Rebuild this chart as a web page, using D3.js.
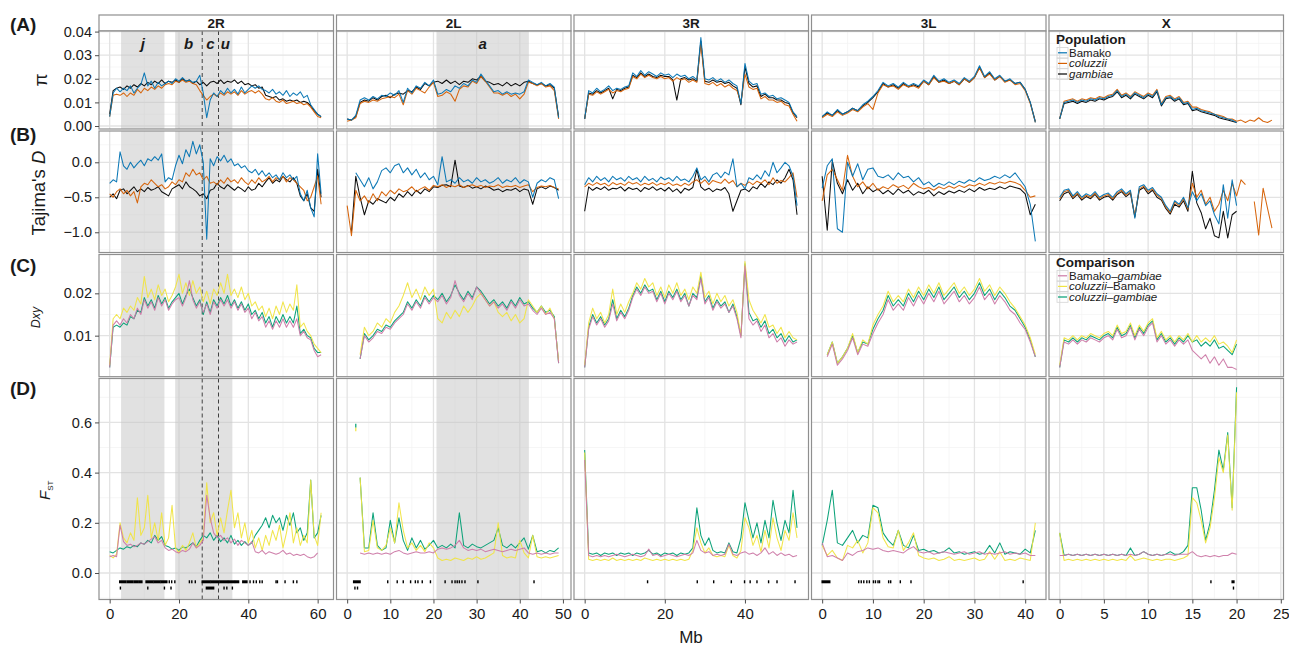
<!DOCTYPE html>
<html>
<head>
<meta charset="utf-8">
<script src="https://cdn.jsdelivr.net/npm/d3@7"></script>
<style>
  body { margin: 0; background: #fff; }
  svg { font-family: "Liberation Sans", Arial, Helvetica, sans-serif; }
</style>
</head>
<body>
<svg id="chart" width="1289" height="648"></svg>
<script>
// chromosome arms, their length (Mb) and the window step of the value arrays (Mb)
var chroms = ["2R", "2L", "3R", "3L", "X"];
var chromLen = [61.5, 49.4, 53.2, 42.0, 24.1];
var chromStep = [1, 1, 1, 1, 0.5];
var xTicks = [[0, 20, 40, 60], [0, 10, 20, 30, 40, 50], [0, 20, 40], [0, 10, 20, 30, 40], [0, 5, 10, 15, 20, 25]];

// populations (draw order) and pairwise comparisons (draw order)
var popOrder = ["gambiae", "coluzzii", "Bamako"];
var popColor = { Bamako: "#0072B2", coluzzii: "#D55E00", gambiae: "#000000" };
var cmpOrder = ["coluzzii-gambiae", "coluzzii-Bamako", "Bamako-gambiae"];
var cmpColor = { "Bamako-gambiae": "#CC79A7", "coluzzii-Bamako": "#F0E442", "coluzzii-gambiae": "#009E73" };

// ---- nucleotide diversity pi (x1000) ----
var pi2R_gam = [5,15,16,16.5,15.5,17,16,17.5,16.5,18, 17,18.5,17.5,19,18,19.5,18,19,18.5,19.5, 18.5,20,19,19.5,18,19,17.5,18.5,17,18.5, 19,18,19.5,18,19,18.5,19.5,18,19,17.5, 18,17,17.5,16,16.5,13,12.5,12,12.5,11, 11.5,10.5,11,10.5,11,10,10.5,10,8.5,6.5, 5,4];
var pi2R_bam = [4,14,16,14.5,16,15,17,14,16,17.5, 22.5,17,19,16,18.5,17,18,19,18,20, 19,20.5,19,19.5,18.5,19,21.5,14,3.5,11, 14,12.5,15,13.5,16,14,15.5,13.5,16.5,14, 15.5,17,16,17,15.5,15,14,15.5,13.5,14.5, 13,15,12.5,14,13,14.5,12,13,9,7, 5,4];
var pi2R_col = [4,13,13.5,13,14,12.5,14,13,15.5,14, 16,15,16.5,15.5,17,16,17.5,18,17.5,19, 18.5,19.5,18.5,19,18,17.5,15,13,11,12.5, 13.5,12.5,14,13,14.5,13.5,14.5,13,15,13.5, 14.5,15,14,15,13.5,11.5,11,12,10.5,10, 11,9.5,10,10.5,9.5,10,9,9.5,8,6, 4,3.5];
var pi2L_gam = [3,2.5,4,10,11,10.5,12,11,12.5,13, 12,13.5,14,13.5,15,14.5,16.5,15.5,18,17, 18.5,19,18,19.5,18,19,17.5,19,18.5,20, 19.5,21,19,18.5,17.5,18,17,18.5,17,18, 17,18.5,19,18,17.5,18,17,17.5,16,4];
var pi2L_bam = [3,2.5,4.5,11,12,11,12.5,11.5,13,12.5, 14,13,15,10,16,14,17,16,18.5,17, 19.5,13.5,14,15.5,14.5,17,16,18,17,19.5, 18.5,22,19.5,17,14.5,15,13.5,14.5,13.5,14, 13.5,14.5,19.5,18.5,17.5,18.5,17,18,16.5,3.5];
var pi2L_col = [2,2.5,3.5,9.5,10.5,10,11,10.5,11.5,12, 12.5,12,13.5,9,15,13.5,16,15,14,16.5, 18.5,12.5,13,14.5,13.5,10.5,15.5,17,16.5,19, 18,21,19,16.5,14,14,13,14,12.5,13.5, 11.5,13.5,18.5,18,17,18,16.5,17,15,3];
var pi3R_bam = [3,15,14,16,14.5,15.5,17,15,16,15.5, 16.5,17,22.5,21,23.5,21.5,23,22,21,22.5, 21.5,22,20.5,22,21,21.5,20,21,19.5,37.5, 20,19.5,20.5,19,20,18.5,19.5,18,17,9.5, 26.5,19,17.5,18,13.5,14,12.5,13,11.5,12, 11,10,6,4];
var pi3R_gam = [3,14,13.5,15,14,15,16,11.5,15.5,15, 16,16.5,21.5,20.5,22.5,21,22,21,20.5,21.5, 21,21,19.5,11,20,20.5,19.5,20,19,36, 19,18.5,19.5,18.5,19,18,18.5,17,16,9, 25,18,16.5,17,12.5,13.5,12,12,11,11, 10,9.5,5.5,3.5];
var pi3R_col = [3,13.5,13,14.5,13.5,14.5,15.5,14,15,14.5, 15.5,16,21,20,22,20.5,21.5,20.5,20,21, 20,20.5,19,20.5,19.5,20,18.5,19.5,18.5,35, 18,17.5,18.5,17,18,16.5,17.5,16,15,10, 22,16.5,15.5,16,11.5,12.5,11,11,10,10.5, 9,8.5,5,2];
var pi3L_bam = [4,6,4.5,7,5,6,7.5,6.5,9,10.5, 12.5,15,18.5,17,18,16.5,18.5,17,18,17, 19.5,18,21.5,19,20,18.5,19.5,18,20.5,19, 21,25.5,21,23,20,21.5,19,20,18,18.5, 15.5,10,1.5];
var pi3L_col = [3.5,5,4,6,4.5,5.5,7,6,8,9.5, 7,14,17.5,16.5,17,15.5,17.5,16.5,17,16, 19,17.5,20.5,18.5,19,18,19,17.5,20,18.5, 20.5,24.5,20.5,22,19.5,21,18.5,19.5,17.5,18, 15,9.5,1.5];
var pi3L_gam = [4,5.5,4.5,6.5,5,6,7.5,6.5,8.5,10, 12,14.5,18,16.5,17.5,16,18,16.5,17.5,16.5, 19,17.5,21,18.5,19.5,18,19,17.5,20,18.5, 20.5,25,20.5,22.5,19.5,21,19,19.5,18,18.5, 15.5,10,2];
var piX_bam = [3,10,10.5,11,10,11,10.5,11.5,11,12, 11.5,12.5,13,15,12.5,13.5,12,14,13,12, 13.5,12.5,15,9,12,12.5,11,12,9.5,10, 7,7.5,6.5,6,5.5,5,4,3.5,3,2.5, 1.5,null,null,null,null,null,null,null,null];
var piX_gam = [3,9.5,10,10.5,9.5,10.5,10,11,10.5,11.5, 11,12,12.5,14.5,12,13,11.5,13.5,12.5,11.5, 13,12,14.5,8.5,11.5,12,10.5,11.5,9,9.5, 6.5,7,6,5.5,5,4.5,3.5,3,2.5,2, 1.5,null,null,null,null,null,null,null,null];
var piX_col = [3,10.5,11,11.5,10.5,11.5,11,12,11.5,12.5, 12,13,13.5,15.5,13,14,12.5,14.5,13.5,12.5, 14,13,15.5,9.5,12.5,13,11.5,12.5,10,10.5, 8,8,7,6.5,6,5,4.5,4,3,3, 2,2.5,1.5,2.5,2,3.5,2,1.5,2.5];

// ---- Tajima's D (x100) ----
var tajD2R_bam = [-30,-25,-28,15,-5,-10,0,-8,-2,3, -5,5,2,8,3,12,-28,-22,-25,-5, 10,-2,18,8,30,12,25,0,-110,5, -5,8,2,10,0,5,-5,-2,-8,-5, -12,-15,-10,-18,-12,-20,-15,-22,-18,-25, -15,-22,-18,-25,-20,-45,-55,-40,-65,-78, 12,-45];
var tajD2R_col = [-45,-50,-42,-38,-45,-40,-48,-42,-58,-35, -30,-32,-25,-30,-35,-32,-38,-35,-28,-32, -25,-28,-15,-20,-10,-18,-15,-25,-20,-30, -28,-32,-25,-30,-22,-28,-25,-30,-22,-28, -32,-25,-30,-22,-28,-25,-20,-28,-22,-25, -20,-28,-22,-25,-30,-35,-40,-55,-50,-35, -20,-60];
var tajD2R_gam = [-50,-45,-52,-40,-38,-45,-40,-35,-42,-38, -42,-36,-40,-38,-35,-42,-45,-48,-38,-35, -32,-38,-28,-35,-38,-42,-48,-45,-52,-40, -38,-30,-35,-38,-32,-36,-40,-35,-38,-42, -35,-40,-38,-30,-35,-28,-22,-30,-25,-28, -20,-25,-28,-22,-30,-48,-55,-45,-65,-70, -10,-50];
var tajD2L_bam = [null,null,-15,-25,-35,-22,-38,-28,-12,-8, -15,-5,-2,-15,-8,-18,-10,-22,-15,-25, -20,-32,8,-28,-25,-30,-22,-28,-25,-30, -22,-28,-25,-30,-27,-22,-30,-25,-28,-22, -30,-25,-28,-50,-30,-25,-28,-22,-25,-52];
var tajD2L_col = [-62,-105,-40,-55,-48,-58,-45,-55,-42,-48, -40,-45,-38,-42,-40,-35,-42,-38,-35,-40, -33,-35,-32,-36,-33,-35,-32,-36,-34,-32, -35,-33,-36,-34,-35,-32,-36,-34,-35,-33, -36,-34,-32,-42,-36,-34,-35,-33,-36,-38];
var tajD2L_gam = [null,-100,-20,-50,-75,-55,-60,-52,-55,-58, -50,-55,-45,-50,-42,-48,-40,-45,-38,-42, -35,-36,-33,-32,-35,3,-34,-36,-33,-37, -35,-38,-34,-36,-40,-38,-42,-39,-40,-37, -42,-38,-40,-60,-38,-35,-38,-34,-36,-40];
var tajD3R_bam = [-32,-22,-28,-20,-26,-22,-28,-20,-25,-22, -27,-20,-25,-22,-28,-20,-26,-23,-28,-21, -25,-22,-27,-20,-26,-24,-28,-20,-8,-25, -20,-28,-18,-15,-22,-14,-18,5,-35,-30, -38,-22,-25,-18,-24,-12,-20,0,-15,-8, 0,-5,-20,-62];
var tajD3R_col = [-35,-30,-33,-29,-32,-30,-34,-29,-32,-30, -33,-28,-31,-29,-33,-30,-32,-29,-33,-30, -32,-29,-33,-31,-34,-30,-33,-28,-25,-30, -25,-32,-26,-28,-30,-24,-30,-26,-35,-30, -33,-28,-32,-27,-30,-25,-32,-22,-30,-26, -28,-22,-15,-50];
var tajD3R_gam = [-70,-35,-40,-36,-39,-35,-40,-37,-38,-35, -41,-36,-39,-37,-42,-36,-39,-35,-40,-37, -41,-36,-42,-38,-44,-37,-40,-36,-10,-35, -40,-37,-42,-38,-40,-36,-45,-70,-55,-40, -38,-42,-35,-38,-30,-36,-28,-32,-25,-30, -22,-10,-25,-75];
var tajD3L_bam = [-37,-5,5,-95,-100,0,-20,-2,-25,-10, -8,-20,-22,-18,-25,-15,-22,-20,-28,-22, -32,-28,-35,-30,-33,-28,-32,-27,-30,-25, -28,-22,-26,-24,-20,-23,-18,-22,-15,-25, -35,-60,-113];
var tajD3L_col = [-55,-18,-10,-25,-40,10,-20,-35,-28,-38, -30,-40,-35,-38,-32,-36,-33,-38,-30,-35, -38,-36,-40,-35,-38,-34,-37,-33,-36,-32, -34,-30,-33,-29,-31,-28,-30,-27,-29,-32, -40,-50,-48];
var tajD3L_gam = [-20,-97,2,-30,-45,-25,-40,-30,-45,-35, -42,-38,-45,-40,-46,-38,-44,-40,-47,-42, -45,-40,-48,-42,-46,-41,-44,-40,-43,-38, -42,-36,-40,-37,-39,-35,-38,-34,-36,-38, -45,-75,-60];
var tajDX_bam = [-50,-40,-38,-48,-42,-50,-45,-48,-42,-50, -46,-44,-50,-42,-38,-45,-40,-80,-35,-32, -40,-36,-45,-50,-62,-70,-55,-60,-50,-65, -42,-55,-45,-62,-55,-75,-88,-32,-80,-25, -62,null,null,null,null,null,null,null,null];
var tajDX_gam = [-55,-45,-42,-52,-46,-54,-49,-52,-46,-54, -50,-48,-54,-46,-42,-49,-44,-78,-40,-36, -45,-40,-50,-54,-66,-74,-60,-64,-55,-70, -13,-58,-72,-95,-80,-105,-108,-70,-108,-75, -70,null,null,null,null,null,null,null,null];
var tajDX_col = [-52,-42,-40,-50,-44,-52,-47,-50,-44,-52, -48,-46,-52,-44,-40,-47,-42,-76,-38,-34, -42,-38,-47,-52,-64,-72,-57,-62,-52,-67, -30,-50,-40,-60,-50,-70,-60,-40,-55,-30, -48,-25,-32,null,-56,-104,-37,-66,-94];

// ---- absolute divergence Dxy (x1000) ----
var dxy2R_colBam = [3,14,15,14,16.5,15.5,17,16,19,17.5, 24,19,21,18.5,22,19.5,21,18,19.5,21.5, 24.5,20,22.5,19.5,23,20,21.5,18,20.5,17.5, 21,19.5,22.5,20,24.5,19.5,21,19,21.5,18.5, 20,17,18,16,17,14.5,16.5,14,17,15, 18,15.5,17.5,16,22,12,13,11,10,8, 7,6];
var dxy2R_bamGam = [2.5,12.5,13.5,12.5,14,13,15,14,16.5,15, 18.5,16.5,18,16,19,17,18.5,16,17.5,18.5, 19,17,19,23,18.5,16.5,18,15.5,17.5,15, 18,16.5,18.5,17,18.5,16.5,18,16,17.5,15.5, 16.5,14,15.5,13.5,14.5,12,13.5,11.5,13.5,12, 14,12,13.5,12,14,10,11,9.5,9,6.5, 5,5.5];
var dxy2R_colGam = [2.5,12,12.5,12,13,12.5,14.5,14,16,15.5, 19,17,18.5,16.5,19.5,17.5,19,16.5,18,19, 20,17.5,19.5,21,19,17,18.5,15,18,15.5, 18.5,17,19,17.5,19.5,17,18.5,16.5,18,16, 17.5,15,16,14,15.5,13,14.5,12,14.5,13, 15,13,14.5,13,17,10.5,11.5,10,9.5,7, 6,6];
var dxy2L_colBam = [null,null,null,5.5,12,10,11,13,12,14, 13,15.5,17,19.5,22.5,19,21,18.5,21.5,19.5, 21,14,13,15.5,14,16,14.5,17,15.5,17, 19,20,18.5,17,18,15.5,14.5,15.5,13.5,15, 13,14,18.5,17,15.5,17,15,16.5,14,4];
var dxy2L_bamGam = [null,null,null,4.5,10,8.5,9.5,11,10.5,12, 11.5,13,14,15,17.5,16,18,16.5,19,17.5, 19,18,19.5,17.5,19,23,19.5,18,20,18.5, 21.5,20,18.5,17,18,16.5,17.5,16,18,16.5, 18.5,17,17.5,16,15,16.5,15,15.5,14,3.5];
var dxy2L_colGam = [null,null,null,4.5,10.5,9,10,11.5,11,12.5, 12,13.5,14.5,15.5,18,16.5,18.5,17,19.5,18, 19.5,18.5,20,18,19.5,22,20,18.5,20.5,19, 21.5,20.5,19,17.5,18.5,17,18,16.5,18.5,17, 19,17.5,18,16.5,15.5,17,15.5,16,14.5,3.5];
var dxy3R_colBam = [3,13,16.5,14,15.5,13,15,21,15,17.5, 15.5,18,20,22.5,21,23.5,21.5,22.5,19.5,21.5, 19,22,20,22.5,19.5,21,18.5,21.5,20,25, 19,20.5,17.5,20,18,19.5,17,18.5,15.5,10, 27.5,18.5,16,14.5,13,15,12,12.5,10.5,12, 9.5,11,9.5,9];
var dxy3R_bamGam = [2.5,11.5,14.5,12.5,14,12,13.5,17.5,13.5,15.5, 14,16,19,21,19.5,21.5,20,20.5,18,20, 17.5,20,18.5,20.5,18,19.5,17,19.5,18.5,23.5, 17.5,19,16,18,16.5,17.5,15.5,17,14,9.5, 26.5,14,12.5,13.5,11,12.5,9.5,10.5,8.5,9.5, 7.5,9,8,8.5];
var dxy3R_colGam = [2.5,12,15,13,14.5,12.5,14,18.5,14,16, 14.5,16.5,19.5,21.5,20,22,20.5,21,18.5,20.5, 18,20.5,19,21,18.5,20,17,20,19,24, 18,19.5,16.5,18.5,17,18,15.5,17.5,14.5,10, 27,15.5,13.5,14,12,13.5,10.5,11.5,9.5,10.5, 8.5,10,8.5,9];
var dxy3L_colBam = [null,5.5,8.5,3.5,5,7,10.5,6,9,8, 12.5,15,17,20.5,18,19.5,18,21,19,21.5, 19.5,22,20,22.5,19.5,21,22.5,20,21.5,19.5, 21,23.5,20.5,22,19.5,21.5,20,18,16.5,14.5, 12.5,9.5,5.5];
var dxy3L_bamGam = [null,5,8,3,4.5,6.5,9.5,5.5,8,7.5, 10.5,13,15,18.5,16,17.5,16,19,17,19.5, 17.5,20,18,20.5,17.5,19,20.5,18,19.5,17.5, 19,21.5,18.5,20,17.5,19.5,18,16,15,13, 11.5,8.5,5];
var dxy3L_colGam = [null,5.5,8.5,3.5,5,7,10,6,8.5,8, 11.5,14,16,19.5,17,18.5,17,20,18,20.5, 18.5,21,19,21.5,18.5,20,21.5,19,20.5,18.5, 20,22.5,19.5,21,18.5,20.5,19,17,16,14, 12,9,5];
var dxyX_colBam = [3,9.5,9,10,9,10,9.5,10.5,10,9.5, 10.5,11,10,12.5,10.5,11,13,10,12.5,11, 13,14,9.5,11,9,10,8.5,10,9,10.5, 8.5,10,8.5,9.5,8.5,10,8,8.5,7.5,6, 9,null,null,null,null,null,null,null,null];
var dxyX_colGam = [2.5,9,8.5,9.5,8.5,9.5,9,10,9.5,9, 10,10.5,9.5,12,10,10.5,12.5,9.5,12,10.5, 12.5,13.5,9,10.5,8.5,9.5,8,9.5,8.5,10, 8.5,9,7.5,8.5,7.5,9,7,7.5,6.5,5.5, 8,null,null,null,null,null,null,null,null];
var dxyX_bamGam = [2.5,8.5,8,9,8,9,8.5,9.5,9,8.5, 9.5,10,9,11.5,9.5,10,12,9,11.5,10, 12,13,8.5,10,8,9,7.5,9,8,9, 6.5,5.5,4.5,5.5,3.5,5,3,4.5,2.5,2.5, 2,null,null,null,null,null,null,null,null];

// ---- F_ST (x100) ----
var fst2R_colBam = [7,6,7.5,20,14,12,16,13,30,15, 18,31,14,20,13,24,11,14,27,10, 8,11,9,12,16,10,12,14,36,20, 24,15,22,16,25,33,18,24,14,20, 12,17,10,14,9,15,11,17,13,19, 10,16,24,12,18,11,15,12,37,15, 11,24];
var fst2R_bamGam = [6.5,7,6.5,19,12.5,11,11.5,10.5,11,12, 11.5,12.5,13.5,14.5,12,13,10,9,9.5,8.5, 8,9,8.5,9.5,12,10,11,13,31,22, 16,14,15,13,14,12,13.5,11,13,12, 11,12.5,8.5,8,9,7.5,8.5,8,7.5,8, 9,7.5,8,7,7.5,7,7.5,6.5,6,6.5, 8,null];
var fst2R_colGam = [8.5,8,9,10,9.5,10.5,10,11,10.5,12, 11.5,13,12,15,13,14.5,11,10.5,9.5,10, 9,10.5,10,11,12,10.5,13,15,14,16, 13,15,12.5,14,12,15,11.5,13,11,12.5, 11,12,15,17,19,22,18,23,20,22, 17,23,19,24,16,18,13,16,37,14, 16,23];
var fst2L_colBam = [null,null,null,38,8.5,9,21,10,9,11, 18,12,28,17,10,12,9,11,8.5,12, 10,6,5,5.5,5,6,5.5,5,6,5.5, 6.5,5.5,6,7,8,20,7,6,6.5,6, 13,8,6,15,6.5,6,6.5,6,6.5,7];
var fst2L_bamGam = [null,null,null,8,7.5,8,7.5,8,7.5,8, 7.5,8.5,9,8,7.5,8,8.5,8,8,8.5, 8,9.5,10,9.5,10,11,13,10,9,9.5, 9,9.5,8.5,9,9.5,9,8.5,9,9.5,9, 9.5,10,8,7.5,8,7.5,8,7.5,8,8];
var fst2L_colGam = [null,null,null,38,10,10,24,11,9,10, 21,12,22,13,9,14,10,13,9.5,11, 13,10,11,10,11.5,10,24,11,10,11.5, 10.5,10,11,12,13,18,11,10,11.5,10, 12,14,9.5,15,8.5,9,8,9,8.5,10];
var fst2L_stray = [2.0, 56.5, 59.5];   // lone window near the start of 2L: Mb, low, high (x100)
var fst3R_colBam = [48,5.5,5,5.5,5,5.5,5,6,5,5.5, 5,5.5,5,5.5,5,6,5.5,5,5.5,5, 5.5,5,5.5,5,5.5,5,5.5,9,18,12, 8,10,7,6.5,7,6.5,11,7,6,9, 22,18,11,15,8.5,17,10,22,14,9, 17,13,24,14];
var fst3R_bamGam = [45,7,6.5,7,6.5,7,6.5,7,7.5,7, 6.5,7,7.5,7,6.5,7,9.5,7,7.5,6.5, 7,7.5,7,6.5,7,7.5,7,8,13,9, 8,8.5,7,7.5,7,7.5,11.5,7.5,7,8, 8.5,7.5,8,7,8,10,7.5,8.5,7,8, 7,7.5,6.5,7];
var fst3R_colGam = [49,8,7.5,8,7,8,7.5,8,7,8, 7.5,8,7,8,7.5,8,9,7.5,8,7, 8,7.5,8,7,8,7.5,8,10,26,15, 11,14,9,8,8.5,8,12,8.5,8,14, 28,21,14,20,12,21,14,29,20,13, 21,16,33,18];
var fst3L_colBam = [11,7,9,6,5,11,10,13,8,12, 26,24,14,10.5,10,17,9,12,16,7, 6,5.5,6,5,5.5,6.5,5,5.5,5,5.5, 6,5,5.5,8.5,5.5,8.5,5,5.5,5,6, 5.5,5,20];
var fst3L_bamGam = [12,6.5,7,6,5,8,7,8.5,9,10, 9.5,10,9,8.5,9,8.5,8,9.5,10.5,8.5, 8,8.5,7.5,8,8.5,8,7.5,8,8.5,7.5, 8,8.5,7.5,8,7.5,8,8.5,7.5,8,7.5, 8,7,7];
var fst3L_colGam = [11,21,33,12,11,14,17,12,15,14, 27,26,16,13,11,17,11,10,15,9, 9.5,8.5,9,8,8.5,10,8,8.5,7.5,8, 8.5,7.5,8,11,8,12,7.5,8.5,8,7.5, 9.5,8,17];
var fstX_colBam = [16,5,5.5,5,5.5,5,5.5,5,5.5,5, 5.5,5,5.5,5,5.5,5,7,5,5.5,6, 5.5,5,5.5,5,5.5,5.5,5,5.5,6,7, 30,28,21,12,18,30,46,40,55,25, 72,null,null,null,null,null,null,null,null];
var fstX_bamGam = [7,7,7.5,7,7.5,7,7.5,7,7.5,7, 7.5,7,7.5,7,7.5,7,7.5,7,7.5,8.5, 7.5,7,7.5,7,7.5,7.5,7,7.5,7.5,7.5, 8.5,7,6.5,7,6.5,7,6.5,7,7,8, 7.5,null,null,null,null,null,null,null,null];
var fstX_colGam = [16,7,7.5,7,7.5,7,7.5,7,7.5,7, 7.5,7,7.5,7,7.5,7,10,7,7.5,8.5, 7.5,7,7.5,7,7.5,8.5,7.5,7.5,8.5,11, 34,34,25,13,20,33,49,41,56,26, 74,null,null,null,null,null,null,null,null];

// outlier window marks under the F_ST panels: [start, end] in Mb (two rows)
var marksTop = [
  [[2.9,4.6],[5,6.6],[7,8],[8.4,9.3],[10.5,12.5],[12.8,14.5],[14.8,16.5],[17.2,17.2],[17.9,17.9],[18.8,18.8],[23,23],[23.7,23.7],[24.7,24.7],[26.7,29],[29.3,31.5],[31.8,34],[34.3,36],[36.3,37.2],[38.4,39.6],[40.5,40.5],[41.5,41.5],[42.3,42.3],[43.3,43.3],[44,44],[48,48],[48.4,48.4],[50.6,50.6],[53,53],[54,54]],
  [[1.5,3.0],[9.4,9.4],[11.6,11.6],[13,13],[14.7,14.7],[15.8,15.8],[16.4,16.4],[17.4,17.4],[19.3,19.3],[22.7,22.7],[24.3,24.3],[25,25],[25.5,25.5],[26,26],[26.6,26.6],[27.3,27.3],[30.3,30.3],[43.3,43.3]],
  [[15.7,15.7],[28.1,28.1],[32.2,32.2],[36.6,36.6],[39.9,39.9],[41.3,41.3],[43,43],[45.9,45.9],[48,48],[52.5,52.5]],
  [[0,1.5],[7.2,7.2],[7.7,7.7],[8.2,8.2],[8.8,8.8],[9.3,9.3],[10.1,10.1],[10.5,10.5],[11,11],[11.3,11.3],[13.1,13.1],[13.5,13.5],[15.4,15.4],[17.5,17.5],[39.6,39.6]],
  [[17.1,17.1],[19.5,19.7]]
];
var marksLow = [
  [[3.1,3.1],[11,11],[15.8,15.8],[17.7,17.7],[27.9,30],[33,33],[33.8,33.8],[35.4,35.4]],
  [[1.8,1.8],[2.4,2.4]],
  [], [], [[19.65,19.65]]
];

// inversions (shaded) and the breakpoints drawn as dashed lines
var inversions = [
  { chrom: "2R", from: 3.3, to: 15.8, label: "j" },
  { chrom: "2R", from: 18.9, to: 26.7, label: "b" },
  { chrom: "2R", from: 26.7, to: 31.4, label: "c" },
  { chrom: "2R", from: 31.4, to: 35.4, label: "u" },
  { chrom: "2L", from: 20.7, to: 42.1, label: "a" }
];
var dashedAt = { "2R": [26.7, 31.4] };

// values per row, chromosome and series (in draw order)
var piVals = [[pi2R_gam, pi2R_col, pi2R_bam], [pi2L_gam, pi2L_col, pi2L_bam], [pi3R_gam, pi3R_col, pi3R_bam], [pi3L_gam, pi3L_col, pi3L_bam], [piX_gam, piX_col, piX_bam]];
var tajVals = [[tajD2R_gam, tajD2R_col, tajD2R_bam], [tajD2L_gam, tajD2L_col, tajD2L_bam], [tajD3R_gam, tajD3R_col, tajD3R_bam], [tajD3L_gam, tajD3L_col, tajD3L_bam], [tajDX_gam, tajDX_col, tajDX_bam]];
var dxyVals = [[dxy2R_colGam, dxy2R_colBam, dxy2R_bamGam], [dxy2L_colGam, dxy2L_colBam, dxy2L_bamGam], [dxy3R_colGam, dxy3R_colBam, dxy3R_bamGam], [dxy3L_colGam, dxy3L_colBam, dxy3L_bamGam], [dxyX_colGam, dxyX_colBam, dxyX_bamGam]];
var fstVals = [[fst2R_colGam, fst2R_colBam, fst2R_bamGam], [fst2L_colGam, fst2L_colBam, fst2L_bamGam], [fst3R_colGam, fst3R_colBam, fst3R_bamGam], [fst3L_colGam, fst3L_colBam, fst3L_bamGam], [fstX_colGam, fstX_colBam, fstX_bamGam]];

var rows = [
  { tag: "(A)", tagY: 30.5, top: 31, bottom: 129, domain: [-0.00127, 0.04025], div: 1000,
    ticks: [0, 0.01, 0.02, 0.03, 0.04], minor: [0.005, 0.015, 0.025, 0.035], fmt: ".2f",
    vals: piVals, keys: popOrder, colors: popColor },
  { tag: "(B)", tagY: 140.5, top: 131, bottom: 252.5, domain: [-1.289, 0.447], div: 100,
    ticks: [-1, -0.5, 0], minor: [-1.25, -0.75, -0.25, 0.25], fmt: ".1f",
    vals: tajVals, keys: popOrder, colors: popColor },
  { tag: "(C)", tagY: 271.5, top: 254.5, bottom: 376.7, domain: [0.0003, 0.02918], div: 1000,
    ticks: [0.01, 0.02], minor: [0.005, 0.015, 0.025], fmt: ".2f",
    vals: dxyVals, keys: cmpOrder, colors: cmpColor },
  { tag: "(D)", tagY: 395, top: 378.5, bottom: 599.5, domain: [-0.1056, 0.775], div: 100,
    ticks: [0, 0.2, 0.4, 0.6], minor: [-0.1, 0.1, 0.3, 0.5, 0.7], fmt: ".1f",
    vals: fstVals, keys: cmpOrder, colors: cmpColor }
];

var panelLeft = 99, panelW = 234.5, panelGap = 3;
var stripTop = 15, stripH = 16;
var svg = d3.select("#chart");
var defs = svg.append("defs");

chroms.forEach(function(chrom, ci) {
  var x0 = panelLeft + ci * (panelW + panelGap);
  var L = chromLen[ci], step = chromStep[ci];
  var x = d3.scaleLinear().domain([-0.05 * L, 1.05 * L]).range([x0, x0 + panelW]);
  var majorX = xTicks[ci].filter(function(t) { return x(t) <= x0 + panelW; });
  var minorX = d3.pairs(xTicks[ci]).map(function(p) { return (p[0] + p[1]) / 2; })
    .concat([xTicks[ci][xTicks[ci].length - 1] + (xTicks[ci][1] - xTicks[ci][0]) / 2])
    .filter(function(t) { return x(t) < x0 + panelW; });

  // strip on top
  svg.append("rect").attr("x", x0).attr("y", stripTop).attr("width", panelW).attr("height", stripH)
    .attr("fill", "#fff").attr("stroke", "#8f8f8f").attr("stroke-width", 1.2);
  svg.append("text").attr("x", x0 + panelW / 2).attr("y", stripTop + 12.5)
    .attr("text-anchor", "middle").attr("font-size", 13.5).attr("font-weight", "bold")
    .attr("fill", "#1a1a1a").text(chrom);

  rows.forEach(function(r, ri) {
    var y = d3.scaleLinear().domain(r.domain).range([r.bottom, r.top]);
    var g = svg.append("g");
    var clipId = "clip-" + ci + "-" + ri;
    defs.append("clipPath").attr("id", clipId).append("rect")
      .attr("x", x0).attr("y", r.top).attr("width", panelW).attr("height", r.bottom - r.top);

    g.append("rect").attr("x", x0).attr("y", r.top).attr("width", panelW).attr("height", r.bottom - r.top)
      .attr("fill", "#fff");

    // grid
    g.selectAll(".gxm").data(minorX).enter().append("line")
      .attr("x1", function(d) { return x(d); }).attr("x2", function(d) { return x(d); })
      .attr("y1", r.top).attr("y2", r.bottom).attr("stroke", "#f2f2f2").attr("stroke-width", 0.7);
    g.selectAll(".gym").data(r.minor).enter().append("line")
      .attr("x1", x0).attr("x2", x0 + panelW)
      .attr("y1", function(d) { return y(d); }).attr("y2", function(d) { return y(d); })
      .attr("stroke", "#f2f2f2").attr("stroke-width", 0.7);
    g.selectAll(".gx").data(majorX).enter().append("line")
      .attr("x1", function(d) { return x(d); }).attr("x2", function(d) { return x(d); })
      .attr("y1", r.top).attr("y2", r.bottom).attr("stroke", "#e3e3e3").attr("stroke-width", 1.3);
    g.selectAll(".gy").data(r.ticks).enter().append("line")
      .attr("x1", x0).attr("x2", x0 + panelW)
      .attr("y1", function(d) { return y(d); }).attr("y2", function(d) { return y(d); })
      .attr("stroke", "#e3e3e3").attr("stroke-width", 1.3);

    // inversion shading
    var inv = inversions.filter(function(d) { return d.chrom === chrom; });
    g.selectAll(".inv").data(inv).enter().append("rect")
      .attr("x", function(d) { return x(d.from); }).attr("y", r.top)
      .attr("width", function(d) { return x(d.to) - x(d.from); }).attr("height", r.bottom - r.top)
      .attr("fill", "#c4c4c4").attr("opacity", 0.5);
    if (ri === 0) {
      g.selectAll(".invl").data(inv).enter().append("text")
        .attr("x", function(d) { return x((d.from + d.to) / 2); }).attr("y", r.top + 18)
        .attr("text-anchor", "middle").attr("font-size", 15).attr("font-weight", "bold")
        .attr("font-style", "italic").attr("fill", "#1a1a1a").text(function(d) { return d.label; });
    }
    (dashedAt[chrom] || []).forEach(function(b) {
      g.append("line").attr("x1", x(b)).attr("x2", x(b)).attr("y1", r.top).attr("y2", r.bottom)
        .attr("stroke", "#404040").attr("stroke-width", 1).attr("stroke-dasharray", "4,3");
    });

    // data lines
    var lg = g.append("g").attr("clip-path", "url(#" + clipId + ")");
    var line = d3.line()
      .defined(function(d) { return d[1] != null; })
      .x(function(d) { return x(d[0]); })
      .y(function(d) { return y(d[1] / r.div); });
    r.vals[ci].forEach(function(vals, si) {
      var pts = vals.map(function(v, i) { return [i * step, v]; });
      lg.append("path").datum(pts).attr("d", line).attr("fill", "none")
        .attr("stroke", r.colors[r.keys[si]]).attr("stroke-width", 1.05)
        .attr("stroke-linejoin", "round").attr("opacity", 0.95);
    });
    if (ri === 3 && chrom === "2L") {
      var s = fst2L_stray;
      lg.append("line").attr("x1", x(s[0])).attr("x2", x(s[0]))
        .attr("y1", y(s[1] / 100)).attr("y2", y((s[1] + s[2]) / 200))
        .attr("stroke", cmpColor["coluzzii-Bamako"]).attr("stroke-width", 1.2);
      lg.append("line").attr("x1", x(s[0])).attr("x2", x(s[0]))
        .attr("y1", y((s[1] + s[2]) / 200)).attr("y2", y(s[2] / 100))
        .attr("stroke", cmpColor["coluzzii-gambiae"]).attr("stroke-width", 1.2);
    }
    if (ri === 3) {
      [[marksTop[ci], -0.035], [marksLow[ci], -0.06]].forEach(function(m) {
        lg.selectAll(null).data(m[0]).enter().append("rect")
          .attr("x", function(d) { return x(d[0]) - 0.7; })
          .attr("width", function(d) { return Math.max(1.4, x(d[1]) - x(d[0]) + 1.4); })
          .attr("y", y(m[1]) - 1.5).attr("height", 3).attr("fill", "#000");
      });
    }

    // border
    g.append("rect").attr("x", x0).attr("y", r.top).attr("width", panelW).attr("height", r.bottom - r.top)
      .attr("fill", "none").attr("stroke", "#8f8f8f").attr("stroke-width", 1.2);

    // y axis on the first column
    if (ci === 0) {
      var ya = svg.append("g").attr("transform", "translate(" + x0 + ",0)")
        .call(d3.axisLeft(y).tickValues(r.ticks).tickFormat(d3.format(r.fmt)).tickSize(4).tickPadding(3));
      ya.select(".domain").remove();
      ya.selectAll("line").attr("stroke", "#4d4d4d");
      ya.selectAll("text").attr("font-size", 14.5).attr("fill", "#1a1a1a")
        .attr("font-family", "Liberation Sans, Arial, sans-serif");
      svg.append("text").attr("x", 10).attr("y", r.tagY).attr("font-size", 19)
        .attr("font-weight", "bold").attr("fill", "#1a1a1a").text(r.tag);
    }
  });

  // x axis under the bottom row
  var xa = svg.append("g").attr("transform", "translate(0," + rows[3].bottom + ")")
    .call(d3.axisBottom(x).tickValues(xTicks[ci]).tickFormat(d3.format("d")).tickSize(4).tickPadding(5));
  xa.select(".domain").remove();
  xa.selectAll("line").attr("stroke", "#4d4d4d");
  xa.selectAll("text").attr("font-size", 15).attr("fill", "#1a1a1a")
    .attr("font-family", "Liberation Sans, Arial, sans-serif");
});

// axis titles
function vTitle(xp, yp, size) {
  return svg.append("text").attr("transform", "translate(" + xp + "," + yp + ") rotate(-90)")
    .attr("text-anchor", "middle").attr("font-size", size).attr("fill", "#1a1a1a");
}
vTitle(47, 80, 19).text("π");
var tj = vTitle(45, 193, 18.5);
tj.append("tspan").text("Tajima's ");
tj.append("tspan").attr("font-style", "italic").text("D");
vTitle(39.5, 317.5, 12.5).attr("font-style", "italic").text("Dxy");
var fs = vTitle(50, 500, 15).attr("text-anchor", "start");
fs.append("tspan").attr("font-style", "italic").text("F");
fs.append("tspan").attr("font-size", 8).attr("dy", 3).text("ST");
svg.append("text").attr("x", 691).attr("y", 643).attr("text-anchor", "middle")
  .attr("font-size", 17).attr("fill", "#1a1a1a").text("Mb");

// legends (inside the X panels)
function legend(x0, y0, title, items) {
  var g = svg.append("g");
  g.append("text").attr("x", x0).attr("y", y0).attr("font-size", 13.5).attr("font-weight", "bold")
    .attr("fill", "#1a1a1a").text(title);
  items.forEach(function(it, i) {
    var yy = y0 + 4 + i * 10.6;
    g.append("rect").attr("x", x0 + 1).attr("y", yy).attr("width", 11).attr("height", 10.6)
      .attr("fill", "none").attr("stroke", "#d4d4d4").attr("stroke-width", 0.8);
    g.append("line").attr("x1", x0 + 2).attr("x2", x0 + 11).attr("y1", yy + 5.3).attr("y2", yy + 5.3)
      .attr("stroke", it.color).attr("stroke-width", 1.2);
    var t = g.append("text").attr("x", x0 + 13).attr("y", yy + 9).attr("font-size", 11.5).attr("fill", "#1a1a1a");
    it.parts.forEach(function(p) {
      t.append("tspan").attr("font-style", p[1] ? "italic" : "normal").text(p[0]);
    });
  });
}
legend(1056, 43.5, "Population", [
  { color: popColor.Bamako, parts: [["Bamako", false]] },
  { color: popColor.coluzzii, parts: [["coluzzii", true]] },
  { color: popColor.gambiae, parts: [["gambiae", true]] }
]);
legend(1056, 266.5, "Comparison", [
  { color: cmpColor["Bamako-gambiae"], parts: [["Bamako–", false], ["gambiae", true]] },
  { color: cmpColor["coluzzii-Bamako"], parts: [["coluzzii", true], ["–Bamako", false]] },
  { color: cmpColor["coluzzii-gambiae"], parts: [["coluzzii", true], ["–", false], ["gambiae", true]] }
]);
</script>
</body>
</html>
